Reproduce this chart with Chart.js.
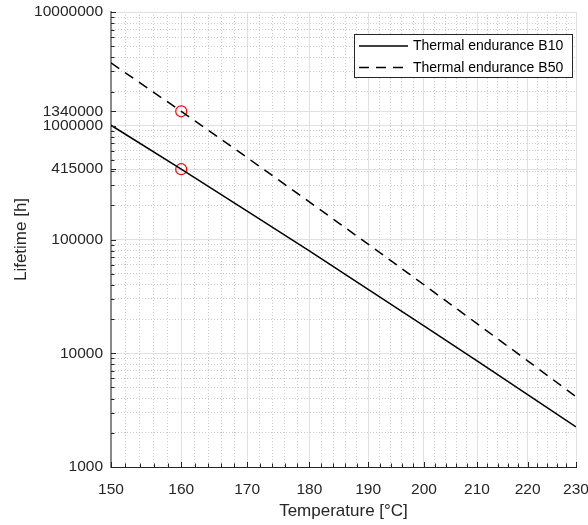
<!DOCTYPE html>
<html>
<head>
<meta charset="utf-8">
<script src="https://cdn.jsdelivr.net/npm/chart.js@4.4.1/dist/chart.umd.min.js"></script>
<style>
  html, body { margin: 0; padding: 0; background: #fff; }
  canvas { display: block; }
</style>
</head>
<body>
<canvas id="chart" width="588" height="525"></canvas>
<script>
// values (temperature in °C, lifetime in hours)
const temps = [150, 160, 170, 180, 190, 200, 210, 220, 230];
const b10 = [1010000, 415000, 178000, 79300, 36500, 17400, 8560, 4330, 2250];
const b50 = [3570000, 1340000, 525000, 214000, 91000, 40000, 18200, 8580, 4150];
const markT = [160, 160];
const markL = [415000, 1340000];
const xLabels = [150, 160, 170, 180, 190, 200, 210, 220, 230];
const yLabels = [1000, 10000, 100000, 415000, 1000000, 1340000, 10000000];
const seriesNames = ['Thermal endurance B10', 'Thermal endurance B50'];

const ink = '#262626';
const family = '"Liberation Sans", Arial, Helvetica, sans-serif';
const majorGrid = '#e0e0e0';
const minorGrid = '#cccccc';

// minor ticks: every 2 °C, and 2..9 per decade
const xTicks = [];
for (let t = 150; t <= 230; t += 2) xTicks.push(t);
const yTicks = [...yLabels];
for (let d = 1000; d < 10000000; d *= 10)
    for (let k = 2; k <= 9; k++) yTicks.push(k * d);
yTicks.sort((a, b) => a - b);

const isMajor = (list, v) => list.includes(v);

const inwardTicks = {
    id: 'inwardTicks',
    afterDatasetsDraw(chart) {
        const { ctx, chartArea: a, scales: { x, y } } = chart;
        ctx.save();
        ctx.strokeStyle = ink;
        ctx.lineWidth = 1;
        ctx.beginPath();
        x.ticks.forEach(t => {
            const px = Math.round(x.getPixelForValue(t.value)) + 0.5;
            ctx.moveTo(px, a.bottom);
            ctx.lineTo(px, a.bottom - (isMajor(xLabels, t.value) ? 5 : 3.5));
        });
        y.ticks.forEach(t => {
            const py = Math.round(y.getPixelForValue(t.value)) + 0.5;
            ctx.moveTo(a.left, py);
            ctx.lineTo(a.left + (isMajor(yLabels, t.value) ? 5 : 3.5), py);
        });
        ctx.stroke();
        ctx.restore();
    }
};

const boxLegend = {
    id: 'boxLegend',
    afterDraw(chart) {
        const { ctx, chartArea: a } = chart;
        const sets = chart.data.datasets.filter(d => seriesNames.includes(d.label));
        ctx.save();
        ctx.font = `14px ${family}`;
        const textW = Math.max(...sets.map(d => ctx.measureText(d.label).width));
        const w = Math.round(5 + 49 + 5 + textW + 9), h = 43;
        const x0 = Math.round(a.right - 4 - w), y0 = Math.round(a.top + 22);
        ctx.fillStyle = '#fff';
        ctx.fillRect(x0, y0, w, h);
        ctx.strokeStyle = ink;
        ctx.lineWidth = 1;
        ctx.strokeRect(x0 + 0.5, y0 + 0.5, w, h);
        sets.forEach((d, i) => {
            const cy = y0 + 12 + i * 21.5;
            ctx.beginPath();
            ctx.setLineDash(d.borderDash || []);
            ctx.lineWidth = d.borderWidth;
            ctx.strokeStyle = d.borderColor;
            ctx.moveTo(x0 + 5, cy);
            ctx.lineTo(x0 + 54, cy);
            ctx.stroke();
            ctx.setLineDash([]);
            ctx.fillStyle = '#000';
            ctx.textBaseline = 'middle';
            ctx.fillText(d.label, x0 + 59, cy + 0.5);
        });
        ctx.restore();
    }
};

const axisStyle = (labels, tickVals, title, titlePad) => ({
    type: 'logarithmic',
    afterBuildTicks: s => { s.ticks = tickVals.map(v => ({ value: v, major: isMajor(labels, v) })); },
    grid: {
        drawTicks: false,
        lineWidth: 1,
        color: c => c.tick && isMajor(labels, c.tick.value) ? majorGrid : minorGrid
    },
    border: {
        color: ink,
        width: 1,
        dash: c => c.tick && !isMajor(labels, c.tick.value) ? [1, 2] : []
    },
    ticks: {
        autoSkip: false,
        maxRotation: 0,
        color: ink,
        font: { family, size: 15.5 },
        callback: v => isMajor(labels, v) ? String(v) : ''
    },
    title: {
        display: true,
        text: title,
        color: ink,
        font: { family, size: 17 },
        padding: titlePad
    }
});

const xAxis = axisStyle(xLabels, xTicks, 'Temperature [°C]', { top: 0, bottom: 3 });
Object.assign(xAxis, {
    position: 'bottom', min: 150, max: 230,
    afterFit: s => { s.height = 58; s.paddingLeft = 0; s.paddingRight = 12; }
});
xAxis.ticks.padding = 13;

const yAxis = axisStyle(yLabels, yTicks, 'Lifetime [h]', { top: 11, bottom: 0 });
Object.assign(yAxis, {
    position: 'left', min: 1000, max: 10000000,
    afterFit: s => { s.width = 111; s.paddingTop = 12; s.paddingBottom = 0; }
});
yAxis.ticks.padding = 8;
yAxis.border.color = '#8a8a8a';
yAxis.border.width = 2;

const toPoints = (xs, ys) => xs.map((t, i) => ({ x: t, y: ys[i] }));

new Chart(document.getElementById('chart'), {
    type: 'line',
    data: {
        datasets: [
            {
                label: seriesNames[0],
                data: toPoints(temps, b10),
                borderColor: '#000',
                borderWidth: 1.5,
                pointRadius: 0,
                tension: 0
            },
            {
                label: seriesNames[1],
                data: toPoints(temps, b50),
                borderColor: '#000',
                borderWidth: 1.5,
                borderDash: [10, 7],
                pointRadius: 0,
                tension: 0
            },
            {
                label: 'markers',
                data: toPoints(markT, markL),
                showLine: false,
                pointStyle: 'circle',
                pointRadius: 5.5,
                pointBorderWidth: 1.2,
                pointBorderColor: '#ff0000',
                pointBackgroundColor: 'rgba(0,0,0,0)'
            }
        ]
    },
    options: {
        responsive: false,
        animation: false,
        layout: { padding: 0 },
        plugins: {
            legend: { display: false },
            tooltip: { enabled: false }
        },
        scales: { x: xAxis, y: yAxis }
    },
    plugins: [inwardTicks, boxLegend]
});
</script>
</body>
</html>
